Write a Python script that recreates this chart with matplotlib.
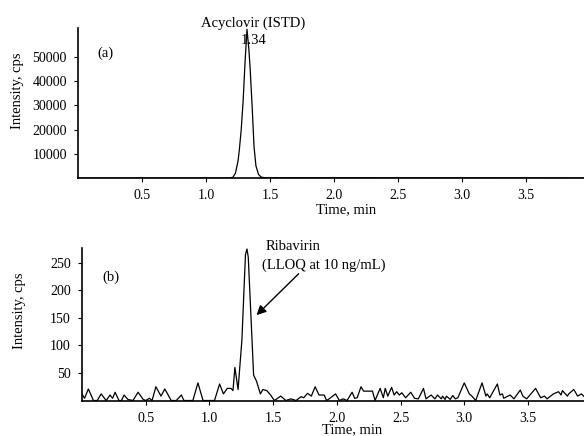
import matplotlib.pyplot as plt

plt.rcParams['font.family'] = ['Liberation Serif', 'DejaVu Serif']

# (a) acyclovir internal standard trace
istd_time = [0.0, 1.18, 1.21, 1.23, 1.25, 1.26, 1.275, 1.29, 1.305, 1.32,
             1.335, 1.345, 1.36, 1.375, 1.39, 1.41, 1.43, 1.46, 1.50, 1.55,
             1.57, 1.60, 3.95]
istd_cps = [0, 0, 300, 2000, 7000, 11500, 20000, 32000, 48000, 61500,
            53000, 45000, 30000, 13000, 5000, 1500, 400, 100, 0, 150,
            0, 120, 0]

# (b) ribavirin at LLOQ (10 ng/mL)
rbv_time = [0.00, 0.02, 0.05, 0.09, 0.12, 0.15, 0.19, 0.22, 0.24, 0.26,
            0.29, 0.31, 0.33, 0.36, 0.40, 0.44, 0.48, 0.50, 0.53, 0.55,
            0.58, 0.62, 0.65, 0.70, 0.74, 0.78, 0.80, 0.87, 0.91, 0.95,
            1.04, 1.08, 1.11, 1.14, 1.17, 1.185, 1.20, 1.225, 1.255, 1.283,
            1.295, 1.305, 1.33, 1.347, 1.37, 1.40, 1.42, 1.45, 1.48, 1.51,
            1.56, 1.60, 1.64, 1.68, 1.72, 1.74, 1.77, 1.80, 1.83, 1.86,
            1.90, 1.92, 1.94, 1.99, 2.02, 2.05, 2.08, 2.12, 2.14, 2.16,
            2.19, 2.21, 2.28, 2.30, 2.34, 2.365, 2.38, 2.40, 2.43, 2.45,
            2.47, 2.49, 2.51, 2.54, 2.58, 2.61, 2.64, 2.68, 2.70, 2.74,
            2.77, 2.79, 2.82, 2.83, 2.85, 2.86, 2.89, 2.91, 2.93, 2.95,
            3.00, 3.04, 3.06, 3.09, 3.14, 3.17, 3.18, 3.20, 3.26, 3.28,
            3.30, 3.31, 3.36, 3.39, 3.44, 3.46, 3.49, 3.56, 3.60, 3.63,
            3.65, 3.70, 3.74, 3.76, 3.77, 3.81, 3.82, 3.86, 3.89, 3.92,
            3.95]
rbv_cps = [12, 4, 21, 0, 0, 12, 0, 10, 4, 15,
           0, 0, 10, 2, 0, 15, 2, 0, 4, 0,
           25, 8, 21, 0, 0, 10, 0, 0, 32, 0,
           0, 30, 12, 22, 22, 18, 60, 20, 110, 265,
           275, 260, 130, 46, 35, 12, 20, 18, 10, 0,
           8, 0, 3, 0, 7, 5, 13, 8, 25, 10,
           10, 0, 3, 12, 0, 3, 0, 15, 4, 5,
           25, 17, 17, 0, 22, 5, 22, 8, 24, 10,
           16, 10, 14, 5, 15, 4, 3, 22, 3, 10,
           3, 10, 3, 8, 2, 8, 2, 9, 3, 5,
           32, 12, 8, 0, 32, 8, 12, 5, 30, 10,
           12, 4, 10, 3, 19, 8, 3, 22, 5, 8,
           3, 12, 16, 10, 18, 8, 12, 20, 8, 12,
           5]

x_ticks = [0.5, 1.0, 1.5, 2.0, 2.5, 3.0, 3.5]
istd_yticks = [10000, 20000, 30000, 40000, 50000]
rbv_yticks = [50, 100, 150, 200, 250]

W, H = 584, 436
fig = plt.figure(figsize=(W / 100, H / 100), dpi=100)
ax1 = fig.add_axes([0.1336, 0.5917, 0.8664, 0.344])
ax2 = fig.add_axes([0.1404, 0.0814, 0.8596, 0.35])

for ax in (ax1, ax2):
    ax.spines['top'].set_visible(False)
    ax.spines['right'].set_visible(False)
    ax.spines['left'].set_linewidth(1.2)
    ax.spines['bottom'].set_linewidth(1.2)
    ax.set_xticks(x_ticks)
    ax.set_xticklabels(['%.1f' % t for t in x_ticks])
    ax.tick_params(axis='both', labelsize=10, length=3, width=0.8,
                   direction='out', pad=5)

ax1.plot(istd_time, istd_cps, color='black', lw=0.9)
ax1.set_xlim(0, 3.953)
ax1.set_ylim(0, 62000)
ax1.set_yticks(istd_yticks)
ax1.text(1.37, 63800, 'Acyclovir (ISTD)', ha='center', va='center',
         fontsize=10.5)
ax1.text(1.27, 56800, '1.34', ha='left', va='center', fontsize=10.5)

ax2.plot(rbv_time, rbv_cps, color='black', lw=0.9)
ax2.set_xlim(0, 3.94)
ax2.set_ylim(0, 277)
ax2.set_yticks(rbv_yticks)
ax2.text(1.44, 280, 'Ribavirin', ha='left', va='center', fontsize=10.5)
ax2.text(1.41, 246, '(LLOQ at 10 ng/mL)', ha='left', va='center',
         fontsize=10.5)
ax2.annotate('', xy=(1.37, 155), xytext=(1.70, 230),
             arrowprops=dict(arrowstyle='-|>', color='black', lw=1.0,
                             mutation_scale=14, shrinkA=0, shrinkB=0))

# panel tags and axis titles, placed in figure pixels
fig.text(97 / W, 1 - 53 / H, '(a)', ha='left', va='center', fontsize=10.5)
fig.text(102 / W, 1 - 277 / H, '(b)', ha='left', va='center', fontsize=10.5)
fig.text(18 / W, 1 - 91 / H, 'Intensity, cps', rotation=90,
         ha='center', va='center', fontsize=10.5)
fig.text(20 / W, 1 - 311 / H, 'Intensity, cps', rotation=90,
         ha='center', va='center', fontsize=10.5)
fig.text(346 / W, 1 - 210 / H, 'Time, min', ha='center', va='center',
         fontsize=10.5)
fig.text(352 / W, 1 - 430 / H, 'Time, min', ha='center', va='center',
         fontsize=10.5)

fig.savefig('out.png', dpi=100)
